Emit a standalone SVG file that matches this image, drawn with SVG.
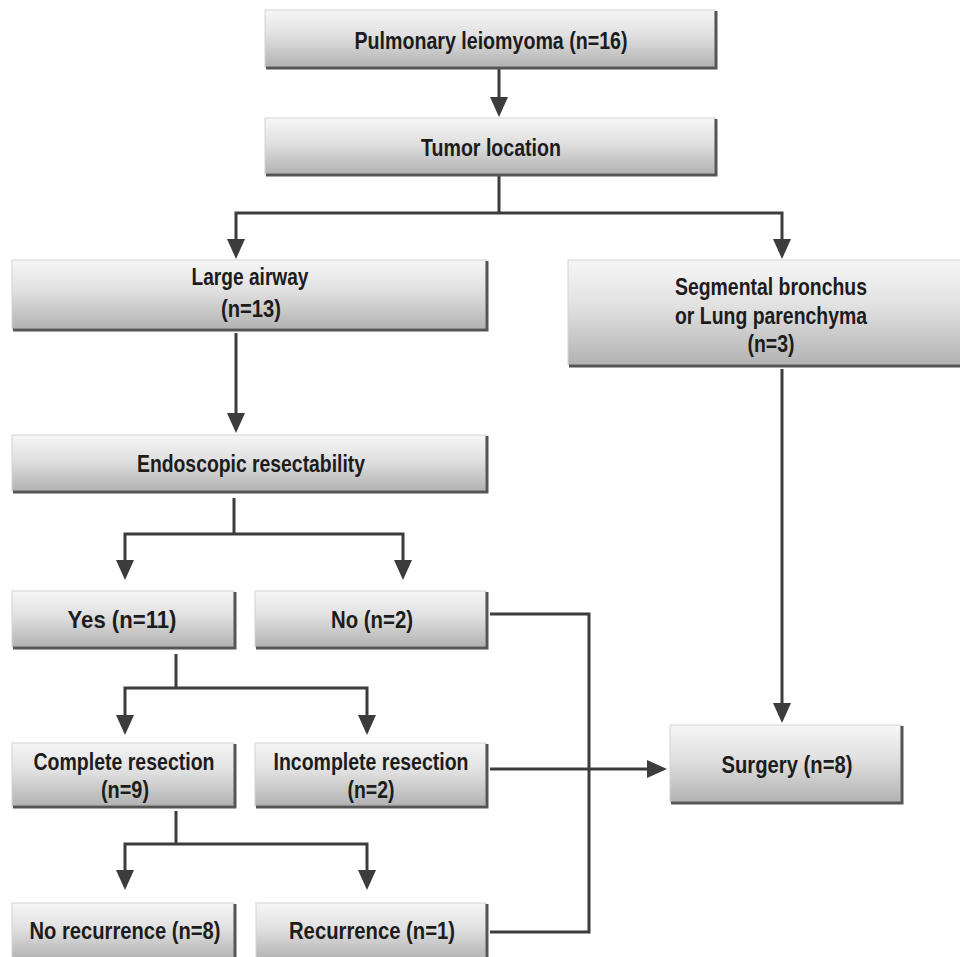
<svg xmlns="http://www.w3.org/2000/svg" width="960" height="957" viewBox="0 0 960 957">
<style>
.bx{fill:url(#g);stroke:#d4d4d4;stroke-width:1}
.sh{fill:none;stroke:#555;stroke-width:3}
.t{font-family:"Liberation Sans",Arial,sans-serif;font-weight:bold;font-size:24px;fill:#1c1c1c;text-anchor:middle}
.c{fill:none;stroke:#3c3c3c;stroke-width:3}
.a{marker-end:url(#ar)}
</style>
<defs>
<linearGradient id="g" x1="0" y1="0" x2="0" y2="1">
<stop offset="0" stop-color="#f6f6f6"/>
<stop offset="0.45" stop-color="#e0e0e0"/>
<stop offset="1" stop-color="#b2b2b2"/>
</linearGradient>
<marker id="ar" markerUnits="userSpaceOnUse" markerWidth="22" markerHeight="20" refX="2" refY="9" orient="auto">
<path d="M0,0 L20,9 L0,18 z" fill="#3c3c3c"/>
</marker>
</defs>
<rect width="960" height="957" fill="#fff"/>
<g id="connectors">
<path class="c a" d="M499,69 V99"/>
<path class="c" d="M499,175 V213"/>
<path class="c a" d="M499,213 H236 V241"/>
<path class="c a" d="M499,213 H782 V241"/>
<path class="c a" d="M236,333 V415"/>
<path class="c" d="M234,498 V534"/>
<path class="c a" d="M234,534 H125 V562"/>
<path class="c a" d="M234,534 H403 V562"/>
<path class="c" d="M176,654 V688"/>
<path class="c a" d="M176,688 H125 V717"/>
<path class="c a" d="M176,688 H367 V717"/>
<path class="c" d="M176,811 V844"/>
<path class="c a" d="M176,844 H125 V872"/>
<path class="c a" d="M176,844 H367 V872"/>
<path class="c a" d="M782,369 V705"/>
<path class="c a" d="M490,769 H649"/>
<path class="c" d="M490,614 H589 V932 H490"/>
</g>
<g id="n1"><rect class="bx" x="265" y="10" width="450" height="57"/><path class="sh" d="M716,11 V68 H266"/><text class="t" x="491" y="48.5" textLength="273" lengthAdjust="spacingAndGlyphs">Pulmonary leiomyoma (n=16)</text></g>
<g id="n2"><rect class="bx" x="265" y="118" width="450" height="56"/><path class="sh" d="M716,119 V175 H266"/><text class="t" x="491" y="156" textLength="140" lengthAdjust="spacingAndGlyphs">Tumor location</text></g>
<g id="n3"><rect class="bx" x="12" y="260" width="474" height="69"/><path class="sh" d="M487,261 V330 H13"/><text class="t" x="250" y="285" textLength="117" lengthAdjust="spacingAndGlyphs">Large airway</text><text class="t" x="251" y="317" textLength="60" lengthAdjust="spacingAndGlyphs">(n=13)</text></g>
<g id="n4"><rect class="bx" x="568" y="260" width="400" height="105"/><path class="sh" d="M569,366 H968"/><text class="t" x="771" y="295" textLength="192" lengthAdjust="spacingAndGlyphs">Segmental bronchus</text><text class="t" x="771" y="324" textLength="192" lengthAdjust="spacingAndGlyphs">or Lung parenchyma</text><text class="t" x="771" y="352" textLength="47" lengthAdjust="spacingAndGlyphs">(n=3)</text></g>
<g id="n5"><rect class="bx" x="12" y="435" width="474" height="56"/><path class="sh" d="M487,436 V492 H13"/><text class="t" x="251" y="472" textLength="228" lengthAdjust="spacingAndGlyphs">Endoscopic resectability</text></g>
<g id="n6"><rect class="bx" x="12" y="591" width="222" height="56"/><path class="sh" d="M235,592 V648 H13"/><text class="t" x="122" y="628" textLength="109" lengthAdjust="spacingAndGlyphs">Yes (n=11)</text></g>
<g id="n7"><rect class="bx" x="255" y="591" width="231" height="56"/><path class="sh" d="M487,592 V648 H256"/><text class="t" x="372" y="628" textLength="82" lengthAdjust="spacingAndGlyphs">No (n=2)</text></g>
<g id="n8"><rect class="bx" x="12" y="743" width="222" height="63"/><path class="sh" d="M235,744 V807 H13"/><text class="t" x="124" y="770" textLength="181" lengthAdjust="spacingAndGlyphs">Complete resection</text><text class="t" x="125" y="798" textLength="48" lengthAdjust="spacingAndGlyphs">(n=9)</text></g>
<g id="n9"><rect class="bx" x="255" y="743" width="231" height="63"/><path class="sh" d="M487,744 V807 H256"/><text class="t" x="371" y="770" textLength="195" lengthAdjust="spacingAndGlyphs">Incomplete resection</text><text class="t" x="371" y="798" textLength="47" lengthAdjust="spacingAndGlyphs">(n=2)</text></g>
<g id="n10"><rect class="bx" x="670" y="725" width="231" height="77"/><path class="sh" d="M902,726 V803 H671"/><text class="t" x="787" y="773" textLength="131" lengthAdjust="spacingAndGlyphs">Surgery (n=8)</text></g>
<g id="n11"><rect class="bx" x="12" y="903" width="222" height="57"/><path class="sh" d="M235,904 V961"/><text class="t" x="125" y="939" textLength="191" lengthAdjust="spacingAndGlyphs">No recurrence (n=8)</text></g>
<g id="n12"><rect class="bx" x="256" y="903" width="230" height="57"/><path class="sh" d="M487,904 V961"/><text class="t" x="372" y="939" textLength="166" lengthAdjust="spacingAndGlyphs">Recurrence (n=1)</text></g>
</svg>
